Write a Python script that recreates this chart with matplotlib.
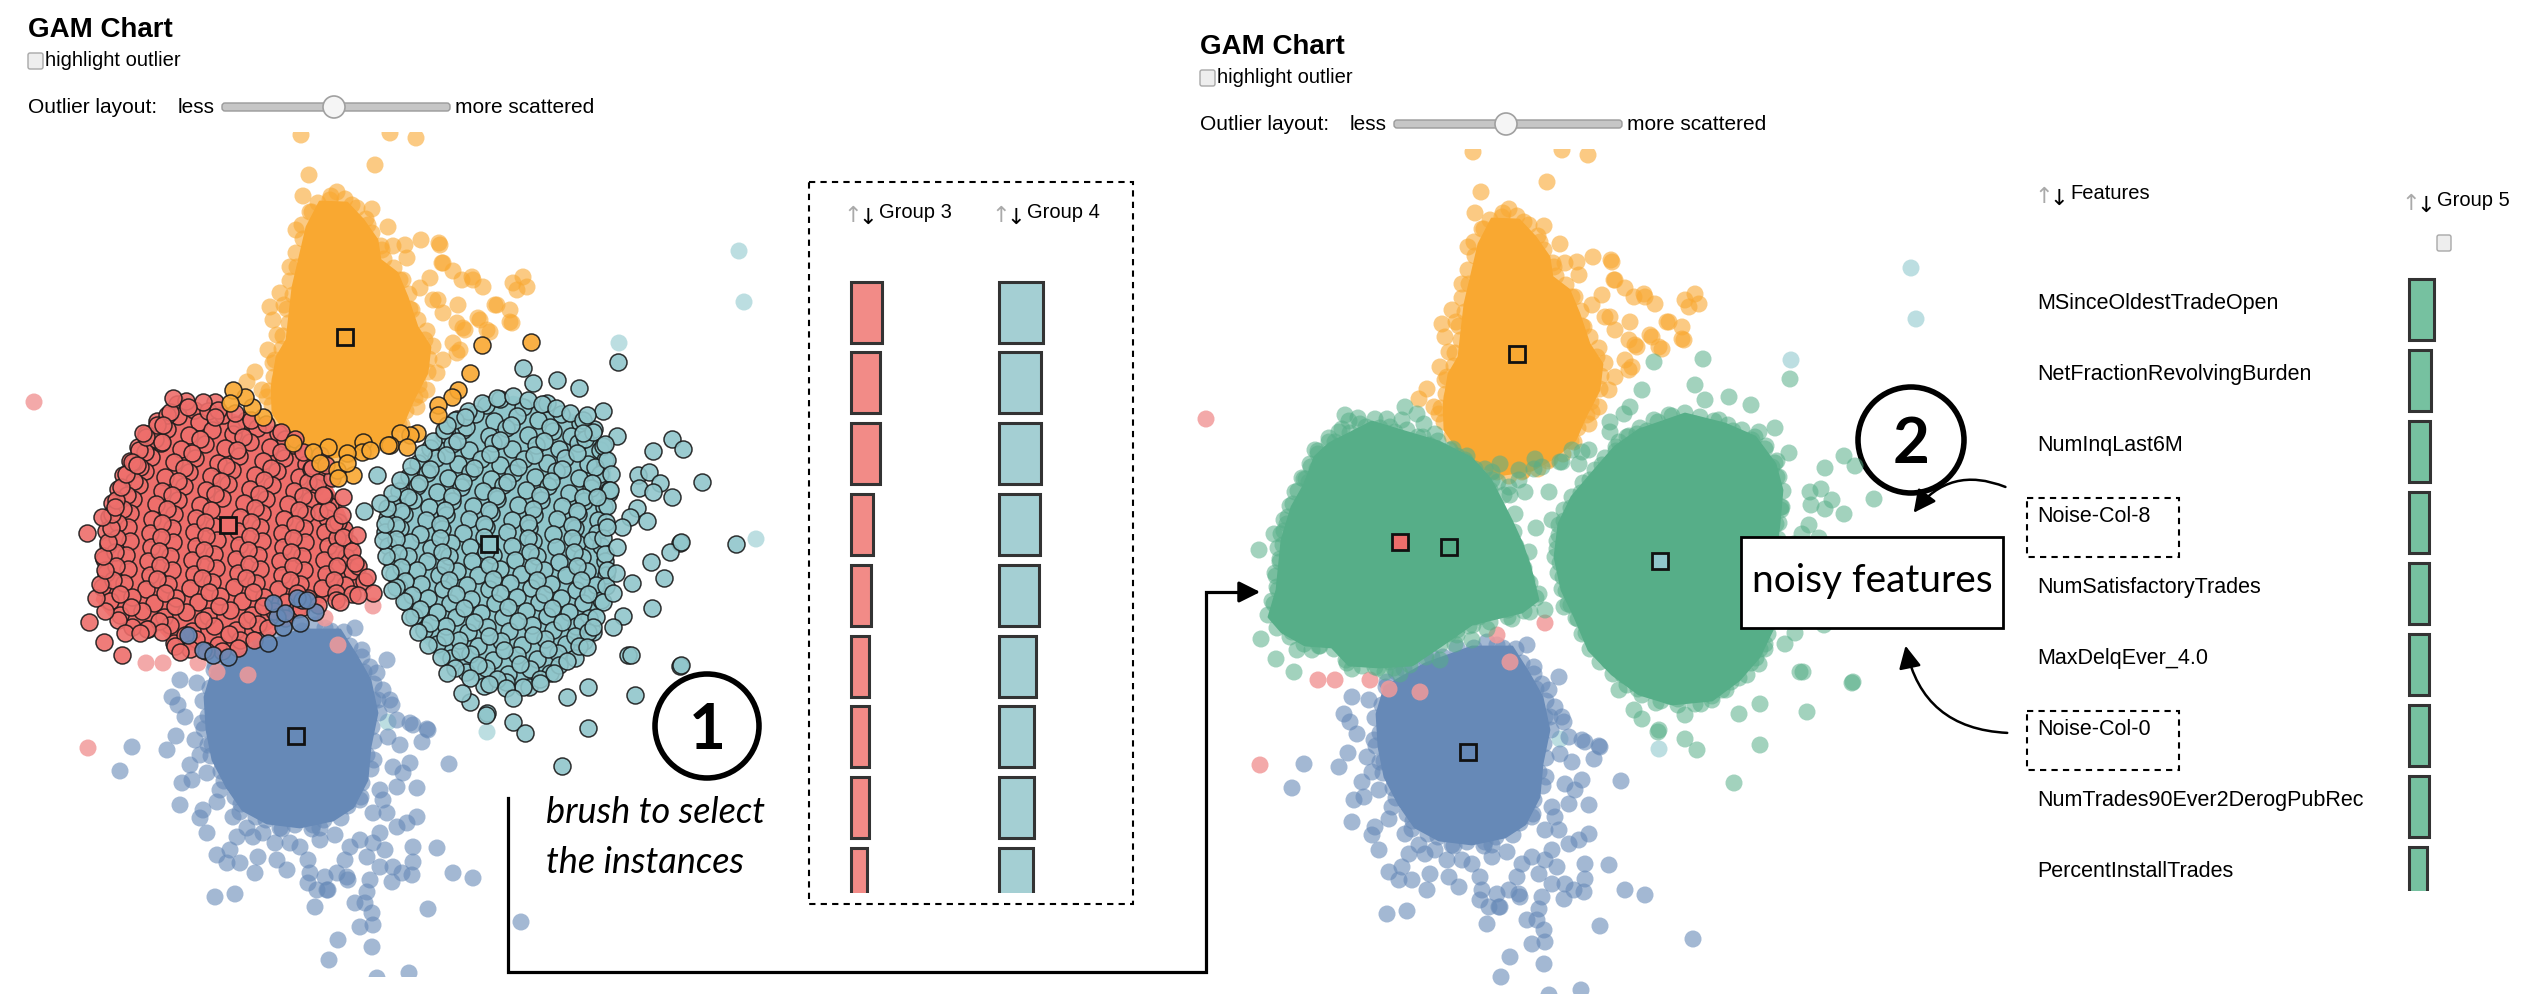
import matplotlib.pyplot as plt
from matplotlib.patches import Rectangle, Polygon, Circle, FancyBboxPatch

plt.rcParams['font.family'] = ['Liberation Sans', 'DejaVu Sans']

# ---- embedding (pixel space of the left panel) ----
orange_core = [(320, 202), (347, 203), (363, 220), (377, 240), (380, 260), (397, 273), (407, 297), (417, 327),
               (430, 347), (427, 373), (413, 400), (403, 423), (383, 440), (360, 453), (333, 457), (307, 450),
               (287, 433), (273, 413), (272, 387), (277, 357), (287, 340), (290, 313), (293, 287), (300, 257),
               (307, 227)]
orange_edge = [(318, 203), (331, 196), (345, 199), (357, 208), (366, 219), (372, 233), (381, 246), (384, 259),
               (394, 268), (403, 280), (409, 294), (410, 309), (418, 320), (427, 331), (433, 346), (429, 359),
               (428, 372), (419, 385), (415, 398), (406, 411), (399, 424), (391, 437), (376, 444), (366, 452),
               (351, 454), (337, 459), (322, 454), (309, 451), (297, 441), (285, 431), (280, 419), (272, 405),
               (269, 391), (274, 377), (273, 363), (282, 349), (283, 336), (289, 323), (287, 309), (293, 295),
               (290, 281), (297, 267), (296, 253), (303, 239), (302, 225), (312, 212)]
orange_pts = [(301, 135), (390, 133), (416, 138), (375, 165), (309, 175), (337, 192), (303, 196), (372, 209),
              (388, 227), (393, 246), (421, 240), (439, 243), (407, 258), (443, 263), (430, 278), (453, 271),
              (462, 280), (472, 277), (483, 287), (513, 283), (497, 305), (458, 305), (438, 300), (443, 313),
              (478, 318), (457, 323), (465, 330), (490, 332), (510, 322), (453, 343), (460, 350), (443, 360),
              (437, 373), (427, 390), (417, 407), (440, 245), (442, 263), (473, 280), (523, 277), (517, 290),
              (527, 287), (495, 305), (510, 310), (512, 323), (480, 320), (463, 328), (487, 330), (457, 353),
              (290, 267), (280, 293), (270, 307), (273, 320), (277, 335), (275, 360), (255, 372), (247, 382),
              (267, 397), (296, 230), (310, 212), (330, 200), (352, 205), (368, 225), (382, 250), (400, 280),
              (412, 310), (425, 340), (280, 380), (285, 410), (300, 440), (325, 455), (350, 455), (378, 442),
              (402, 425), (420, 395), (262, 390), (284, 305), (268, 350), (420, 288), (433, 300), (405, 245)]
orange_sel = [(482, 345), (531, 342), (470, 373), (458, 390), (452, 397), (438, 405), (438, 415), (417, 433),
              (410, 435), (400, 433), (390, 445), (407, 447), (363, 442), (362, 452), (347, 453), (353, 475),
              (328, 447), (313, 452), (320, 463), (337, 470), (293, 443), (263, 417), (252, 407), (245, 397),
              (233, 390), (230, 403), (338, 478), (347, 463), (370, 450), (388, 445)]

blue_core = [(213, 670), (253, 647), (300, 630), (340, 630), (357, 657), (370, 680), (377, 713), (370, 747),
             (367, 780), (353, 807), (333, 820), (300, 827), (267, 823), (243, 810), (227, 787), (213, 760),
             (207, 730), (205, 697)]
blue_edge = [(214, 670), (224, 655), (241, 651), (254, 642), (271, 640), (285, 631), (302, 631), (315, 625),
             (331, 631), (344, 632), (350, 646), (362, 657), (364, 672), (374, 684), (373, 700), (379, 713),
             (372, 727), (374, 741), (367, 755), (371, 769), (362, 783), (361, 797), (348, 806), (341, 818),
             (324, 820), (312, 829), (295, 825), (282, 829), (266, 820), (256, 817), (241, 804), (235, 797),
             (224, 781), (221, 771), (211, 756), (212, 744), (204, 729), (208, 716), (203, 701), (210, 688)]
blue_pts = [(180, 680), (172, 697), (197, 683), (178, 705), (185, 717), (202, 723), (176, 736), (132, 747),
            (167, 750), (120, 771), (200, 755), (182, 783), (192, 780), (207, 773), (180, 805), (200, 818),
            (207, 833), (203, 810), (217, 802), (233, 817), (247, 828), (237, 837), (217, 855), (230, 850),
            (227, 863), (240, 863), (255, 873), (263, 833), (277, 860), (287, 870), (300, 847), (308, 860),
            (310, 873), (308, 883), (317, 890), (328, 890), (325, 877), (337, 873), (347, 877), (350, 847),
            (360, 840), (367, 857), (373, 843), (380, 833), (373, 813), (383, 800), (380, 790), (397, 787),
            (403, 773), (410, 763), (417, 788), (417, 817), (407, 823), (397, 827), (387, 813), (393, 767),
            (388, 737), (400, 745), (413, 725), (422, 742), (428, 730), (392, 705), (397, 720), (383, 690),
            (377, 673), (387, 660), (370, 667), (355, 628), (413, 847), (413, 862), (412, 875), (402, 873),
            (392, 882), (393, 867), (380, 867), (370, 880), (367, 892), (372, 913), (373, 925), (360, 927),
            (355, 903), (365, 903), (348, 880), (315, 907), (327, 890), (338, 940), (329, 960), (372, 947),
            (428, 909), (437, 848), (453, 873), (473, 878), (449, 764), (427, 729), (410, 723), (215, 897),
            (235, 894), (409, 973), (377, 978), (313, 825), (290, 843), (258, 857), (253, 837), (521, 922),
            (215, 665), (232, 652), (260, 640), (325, 628), (362, 650), (378, 700), (374, 760), (360, 800),
            (320, 828), (280, 828), (240, 812), (220, 790), (208, 745), (320, 840), (335, 835), (275, 843),
            (345, 860), (385, 850), (390, 700), (195, 740), (190, 765)]
blue_sel = [(188, 635), (203, 650), (213, 655), (228, 657), (268, 643), (283, 627), (277, 617), (300, 623),
            (315, 612), (302, 600), (273, 603), (297, 598), (307, 600), (285, 613)]

red_core = [(157, 427), (200, 405), (233, 415), (267, 425), (300, 442), (318, 462), (330, 485), (340, 505),
            (350, 527), (358, 550), (366, 583), (350, 595), (300, 607), (267, 630), (240, 648), (207, 650),
            (177, 648), (160, 630), (133, 628), (110, 615), (97, 600), (105, 573), (110, 523), (120, 490),
            (133, 467), (143, 440)]
red_pts = [(177, 404), (194, 410), (215, 402),
           (157, 421), (178, 416), (199, 422), (223, 415), (246, 420),
           (146, 434), (167, 429), (189, 435), (212, 430), (233, 434), (257, 428), (278, 433),
           (138, 447), (161, 443), (181, 449), (205, 444), (225, 448), (250, 442), (270, 447), (293, 445),
           (130, 461), (151, 457), (174, 462), (195, 458), (218, 463), (239, 456), (263, 461), (284, 458), (306, 464),
           (123, 475), (145, 471), (165, 477), (189, 472), (211, 476), (232, 470), (255, 475), (277, 471),
           (299, 477), (318, 473),
           (118, 489), (139, 485), (162, 491), (184, 486), (206, 490), (228, 484), (250, 489), (272, 485),
           (294, 491), (315, 487),
           (112, 503), (133, 499), (156, 504), (178, 500), (200, 505), (222, 498), (244, 503), (266, 499),
           (288, 504), (310, 500), (330, 506),
           (109, 517), (130, 513), (152, 519), (174, 514), (196, 518), (240, 517), (262, 513), (284, 519),
           (306, 514), (327, 518),
           (106, 531), (128, 527), (150, 533), (172, 528), (194, 532), (214, 526), (238, 531), (260, 527),
           (282, 533), (304, 528), (325, 532), (344, 529),
           (108, 545), (130, 541), (151, 547), (173, 542), (196, 546), (217, 540), (239, 545), (262, 541),
           (283, 547), (305, 542), (328, 546), (349, 543),
           (104, 559), (126, 555), (148, 561), (170, 556), (192, 560), (214, 554), (236, 559), (258, 555),
           (280, 561), (302, 556), (324, 560), (346, 557),
           (106, 573), (128, 569), (150, 575), (172, 570), (194, 574), (216, 568), (238, 573), (260, 569),
           (282, 575), (304, 570), (326, 574), (352, 571),
           (102, 587), (124, 583), (146, 589), (168, 584), (190, 588), (212, 582), (234, 587), (256, 583),
           (278, 589), (300, 584), (322, 588), (345, 585),
           (110, 601), (132, 597), (154, 603), (176, 598), (198, 602), (220, 596), (242, 601), (264, 597),
           (286, 602), (308, 598),
           (120, 615), (142, 611), (164, 617), (186, 612), (208, 616), (230, 610), (252, 615), (274, 611),
           (148, 629), (170, 625), (192, 631), (214, 626), (236, 630), (258, 624),
           (174, 643), (196, 639), (218, 645), (240, 640),
           (167, 415), (208, 411), (236, 425), (155, 439), (200, 439), (243, 437), (285, 439), (145, 452),
           (192, 453), (237, 450), (281, 452), (140, 467), (184, 468), (226, 466), (271, 468), (311, 469),
           (134, 481), (178, 481), (221, 481), (264, 480), (308, 482), (127, 495), (172, 495), (215, 494),
           (259, 494), (303, 496), (123, 509), (167, 509), (211, 510), (255, 508), (299, 510), (319, 512),
           (118, 523), (162, 523), (205, 522), (251, 522), (295, 524), (338, 522), (117, 538), (161, 537),
           (206, 536), (250, 536), (293, 538), (337, 538), (115, 552), (159, 551), (204, 550), (248, 550),
           (291, 552), (336, 551), (116, 566), (160, 565), (205, 564), (249, 564), (293, 566), (337, 566),
           (113, 580), (157, 579), (202, 578), (246, 578), (290, 580), (334, 580), (120, 594), (165, 593),
           (209, 592), (253, 592), (297, 593), (336, 593), (131, 607), (175, 606), (219, 606), (263, 606),
           (297, 609), (159, 621), (203, 620), (247, 620), (185, 635), (229, 634),
           (157, 425), (170, 412), (186, 401), (203, 402), (218, 410), (235, 413), (251, 420), (266, 424),
           (281, 432), (295, 439), (303, 452), (312, 468), (318, 482), (324, 496), (328, 510), (334, 524),
           (343, 537), (352, 551), (358, 566), (364, 581), (352, 594), (336, 600), (318, 605), (301, 608),
           (285, 618), (268, 628), (254, 640), (238, 648), (222, 651), (206, 651), (190, 649), (175, 646),
           (162, 632), (147, 629), (132, 627), (118, 620), (105, 611), (96, 598), (100, 584), (105, 570),
           (103, 556), (108, 542), (111, 528), (112, 514), (116, 500), (121, 487), (126, 474), (134, 462),
           (139, 450), (146, 437), (320, 455), (332, 478), (343, 497), (326, 465),
           (87, 533), (102, 517), (115, 507), (132, 462), (137, 465), (143, 433), (162, 442), (163, 425),
           (173, 398), (188, 407), (215, 417), (323, 495), (342, 515), (357, 535), (355, 563), (367, 577),
           (373, 593), (340, 602), (358, 595), (89, 622), (104, 642), (122, 655), (125, 633), (140, 633),
           (180, 652)]

teal_core = [(467, 413), (513, 397), (553, 407), (583, 420), (603, 447), (610, 473), (607, 507), (603, 540),
             (607, 573), (603, 607), (587, 640), (567, 663), (540, 683), (500, 687), (467, 677), (440, 657),
             (417, 633), (403, 600), (390, 573), (383, 540), (387, 507), (400, 480), (423, 453), (443, 430)]
teal_pts = [(486, 405), (500, 399), (523, 407), (547, 403),
            (457, 419), (475, 414), (494, 421), (517, 416), (538, 420), (561, 414), (580, 423),
            (444, 434), (463, 430), (489, 436), (506, 428), (528, 435), (553, 431), (571, 436), (594, 429),
            (430, 448), (452, 444), (469, 450), (493, 443), (512, 449), (536, 445), (559, 449), (578, 443),
            (600, 450),
            (418, 463), (436, 458), (458, 464), (481, 459), (500, 465), (524, 459), (547, 463), (565, 458),
            (588, 464), (605, 460),
            (409, 476), (427, 473), (448, 478), (470, 472), (491, 479), (513, 473), (535, 477), (556, 471),
            (579, 478), (600, 474),
            (399, 491), (417, 486), (437, 492), (461, 487), (483, 491), (503, 485), (526, 490), (548, 486),
            (569, 493), (591, 488), (609, 493),
            (392, 504), (413, 500), (429, 507), (452, 501), (473, 506), (497, 499), (518, 505), (541, 500),
            (562, 506), (584, 501), (604, 507),
            (387, 518), (404, 514), (426, 520), (446, 515), (469, 519), (491, 513), (512, 520), (534, 515),
            (557, 519), (578, 514), (598, 520),
            (385, 532), (400, 528), (420, 534), (442, 529), (463, 533), (486, 527), (507, 532), (529, 528),
            (553, 534), (575, 528), (597, 533),
            (388, 546), (410, 542), (431, 548), (451, 543), (470, 547), (512, 546), (533, 541), (556, 547),
            (577, 543), (601, 546),
            (391, 560), (408, 556), (427, 561), (449, 556), (472, 561), (493, 555), (515, 560), (537, 556),
            (559, 562), (582, 557), (605, 561),
            (394, 574), (417, 570), (439, 575), (457, 571), (478, 575), (500, 569), (521, 574), (544, 570),
            (566, 575), (587, 571), (606, 575),
            (399, 588), (421, 584), (443, 589), (467, 585), (489, 589), (510, 583), (531, 588), (551, 584),
            (576, 590), (596, 585),
            (406, 602), (428, 598), (450, 603), (471, 599), (495, 603), (517, 597), (539, 602), (561, 598),
            (583, 603), (601, 600),
            (414, 616), (437, 612), (456, 617), (481, 613), (503, 617), (526, 611), (547, 616), (569, 612),
            (589, 618),
            (424, 630), (446, 626), (468, 632), (487, 627), (509, 631), (532, 625), (553, 630), (576, 626),
            (593, 632),
            (437, 644), (459, 640), (478, 646), (501, 641), (522, 645), (545, 639), (566, 644), (584, 641),
            (451, 658), (470, 654), (493, 660), (517, 655), (537, 659), (558, 653), (575, 658),
            (466, 672), (486, 668), (508, 674), (530, 669), (550, 673),
            (484, 686), (506, 682), (529, 687),
            (466, 427), (511, 425), (550, 427), (457, 441), (500, 440), (544, 441), (585, 439), (446, 455),
            (490, 454), (534, 455), (577, 453), (430, 469), (474, 468), (518, 467), (562, 469), (595, 467),
            (419, 483), (463, 482), (507, 482), (551, 481), (592, 483), (408, 497), (452, 496), (496, 496),
            (540, 495), (583, 497), (401, 511), (445, 510), (489, 510), (533, 509), (577, 511), (396, 525),
            (440, 524), (484, 524), (528, 523), (572, 525), (396, 539), (440, 538), (484, 537), (528, 538),
            (572, 538), (592, 540), (398, 553), (442, 552), (486, 551), (530, 552), (574, 552), (401, 567),
            (445, 566), (489, 565), (533, 566), (577, 566), (405, 581), (449, 580), (493, 579), (537, 580),
            (581, 580), (412, 595), (456, 594), (500, 593), (544, 594), (588, 594), (420, 609), (464, 608),
            (508, 607), (552, 608), (430, 623), (474, 622), (518, 621), (562, 622), (582, 622), (445, 637),
            (489, 636), (533, 635), (575, 636), (460, 651), (504, 650), (548, 649), (478, 665), (520, 664),
            (559, 665), (497, 679), (540, 679),
            (468, 411), (482, 403), (497, 398), (513, 396), (528, 400), (542, 404), (556, 408), (570, 413),
            (583, 420), (593, 432), (603, 446), (607, 460), (611, 474), (609, 490), (607, 506), (606, 522),
            (603, 538), (605, 554), (607, 570), (606, 586), (603, 602), (596, 617), (588, 632), (579, 646),
            (567, 661), (554, 673), (540, 683), (523, 687), (506, 688), (489, 684), (470, 678), (455, 668),
            (441, 657), (428, 645), (418, 632), (410, 617), (404, 601), (396, 587), (390, 572), (386, 556),
            (383, 540), (385, 524), (387, 508), (392, 493), (400, 480), (411, 466), (423, 453), (433, 441),
            (444, 430), (455, 420),
            (523, 368), (533, 383), (557, 380), (579, 388), (618, 362), (603, 411), (587, 415), (583, 433),
            (617, 436), (605, 444), (653, 451), (672, 439), (683, 449), (638, 475), (649, 472), (660, 483),
            (639, 488), (653, 492), (672, 497), (702, 482), (610, 490), (597, 497), (637, 508), (647, 521),
            (630, 517), (622, 527), (607, 527), (617, 547), (680, 543), (670, 552), (736, 544), (651, 562),
            (616, 573), (632, 583), (664, 578), (613, 593), (652, 608), (623, 616), (613, 627), (593, 627),
            (587, 647), (628, 655), (680, 666), (588, 687), (635, 695), (567, 697), (513, 698), (487, 713),
            (513, 722), (525, 733), (588, 728), (470, 702), (462, 693), (447, 673), (377, 475), (364, 511),
            (380, 503), (392, 590), (447, 425), (465, 417), (486, 715), (562, 766), (631, 655), (681, 665),
            (681, 542)]

pink_pts = [(34, 402), (88, 748), (146, 663), (163, 663), (198, 663), (217, 672), (248, 675), (338, 645),
            (373, 606), (325, 618)]
pale_teal_pts = [(739, 251), (744, 302), (619, 343), (756, 539), (487, 732), (388, 722)]

# cluster centre markers: (x, y, colour, filled)
left_marks = [(345, 337, '#F9A831', False), (228, 525, '#EE6E6B', True),
              (489, 544, '#90C6CB', True), (296, 736, '#6689B7', False)]
right_marks = [(345, 337, '#F9A831', False), (228, 525, '#EE6E6B', True), (277, 530, '#56AE88', False),
               (488, 544, '#90C6CB', True), (296, 735, '#6689B7', False)]

# ---- bar lists ----
group3_w = [31, 29, 29, 22, 20, 18, 18, 18, 16]
group4_w = [44, 42, 42, 41, 40, 37, 35, 35, 34]
group5_w = [25, 22, 21, 20, 20, 20, 20, 20, 18]
features = ['MSinceOldestTradeOpen', 'NetFractionRevolvingBurden', 'NumInqLast6M', 'Noise-Col-8',
            'NumSatisfactoryTrades', 'MaxDelqEver_4.0', 'Noise-Col-0', 'NumTrades90Ever2DerogPubRec',
            'PercentInstallTrades']
noisy = ['Noise-Col-8', 'Noise-Col-0']

ORANGE, BLUE, RED, TEAL, GREEN = '#F9A831', '#6689B7', '#EE6E6B', '#90C6CB', '#56AE88'
S = 150

fig = plt.figure(figsize=(25.31, 9.97), dpi=100)
ax = fig.add_axes([0, 0, 1, 1])
ax.set_xlim(0, 2531)
ax.set_ylim(997, 0)
ax.axis('off')


def draw_panel(ox, oy, merged):
    clip = Rectangle((ox - 10, 132 + oy), 840, 845, transform=ax.transData)

    def sc(pts, color, alpha=0.6, edge=False, z=2):
        c = ax.scatter([p[0] + ox for p in pts], [p[1] + oy for p in pts], s=S, c=color, alpha=alpha,
                       edgecolors='#1a1a1a' if edge else 'none', linewidths=1.1 if edge else 0, zorder=z)
        c.set_clip_path(clip)

    def core(poly, color, z=2):
        p = Polygon([(x + ox, y + oy) for x, y in poly], closed=True, fc=color, ec=color, lw=2, zorder=z,
                    joinstyle='round')
        ax.add_patch(p)
        p.set_clip_path(clip)

    sc(pale_teal_pts, '#B5DBDE', alpha=0.9)
    core(orange_core, ORANGE)
    sc(orange_edge + orange_pts, ORANGE)
    core(blue_core, BLUE)
    sc(blue_edge + blue_pts, BLUE)
    sc(pink_pts, '#F29A9A', alpha=0.85)
    if merged:
        core(red_core, GREEN, z=3)
        core(teal_core, GREEN, z=3)
        sc(red_pts + teal_pts + orange_sel + blue_sel, GREEN, alpha=0.55, z=3)
        marks = right_marks
    else:
        core(red_core, RED, z=3)
        sc(red_pts, RED, alpha=0.9, edge=True, z=3)
        core(teal_core, TEAL, z=3)
        sc(teal_pts, TEAL, alpha=0.9, edge=True, z=3)
        sc(orange_sel, ORANGE, alpha=0.9, edge=True, z=3)
        sc(blue_sel, BLUE, alpha=0.9, edge=True, z=3)
        marks = left_marks
    for x, y, col, filled in marks:
        ax.plot(x + ox, y + oy, 's', ms=12, mfc=col if filled else 'none', mec='#111111', mew=2, zorder=6)

    # header controls
    ax.text(28 + ox, 37 + oy, 'GAM Chart', fontsize=20, fontweight='bold', va='baseline')
    ax.add_patch(FancyBboxPatch((29 + ox, 54 + oy), 13, 14, boxstyle='round,pad=1,rounding_size=2',
                                fc='#EEEEEE', ec='#A8A8A8', lw=1))
    ax.text(45 + ox, 66 + oy, 'highlight outlier', fontsize=14.5, va='baseline')
    ax.text(28 + ox, 113 + oy, 'Outlier layout:', fontsize=15, va='baseline')
    ax.text(178 + ox, 113 + oy, 'less', fontsize=15, va='baseline')
    ax.add_patch(FancyBboxPatch((222 + ox, 103 + oy), 228, 8, boxstyle='round,pad=0,rounding_size=3',
                                fc='#C6C6C6', ec='#9A9A9A', lw=1))
    ax.add_patch(Circle((334 + ox, 107 + oy), 11, fc='#F5F5F5', ec='#A0A0A0', lw=1.2, zorder=4))
    ax.text(455 + ox, 113 + oy, 'more scattered', fontsize=15, va='baseline')


def sort_header(x, y, label):
    ax.text(x, y + 2, '↑', fontsize=16, color='#AAAAAA', family='DejaVu Sans', va='center', ha='center')
    ax.text(x + 15, y + 4, '↓', fontsize=16, color='black', family='DejaVu Sans', va='center', ha='center')
    ax.text(x + 26, y - 2, label, fontsize=14.5, va='center')


draw_panel(0, 0, merged=False)
draw_panel(1172, 17, merged=True)

# ---- left list (group 3 / group 4) ----
ax.add_patch(Rectangle((809, 182), 324, 722, fill=False, ec='black', lw=1.5, ls=(0, (3, 2.5))))
sort_header(853, 214, 'Group 3')
sort_header(1001, 214, 'Group 4')
list_clip = Rectangle((800, 270), 400, 623, transform=ax.transData)
yc_left = [312 + 70.8 * i for i in range(len(group3_w))]
for widths, x0, col in [(group3_w, 851, '#F28B87'), (group4_w, 999, '#A4CFD3')]:
    bars = ax.barh(yc_left, widths, left=x0, height=61, color=col, edgecolor='#333333', linewidth=2.2)
    for b in bars:
        b.set_clip_path(list_clip)

# ---- right list (features / group 5) ----
sort_header(2044, 195, 'Features')
sort_header(2411, 202, 'Group 5')
ax.add_patch(FancyBboxPatch((2438, 236), 12, 14, boxstyle='round,pad=1,rounding_size=2',
                            fc='#EEEEEE', ec='#A8A8A8', lw=1))
yc_right = [309 + 71 * i for i in range(len(group5_w))]
right_clip = Rectangle((2300, 260), 231, 631, transform=ax.transData)
bars = ax.barh(yc_right, group5_w, left=2409, height=61, color='#76C1A0', edgecolor='#333333', linewidth=2.2)
for b in bars:
    b.set_clip_path(right_clip)
for name, yc in zip(features, yc_right):
    ax.text(2037, yc, name, fontsize=15.5, va='baseline')
    if name in noisy:
        ax.add_patch(Rectangle((2027, yc - 24), 152, 59, fill=False, ec='black', lw=1.5, ls=(0, (3, 2.5))))

# ---- annotations ----
ax.add_patch(Circle((707, 726), 52, fill=False, ec='black', lw=4))
ax.text(707, 749, '1', fontsize=46, fontweight='bold', family='Lato', ha='center', va='baseline')
ax.text(546, 823, 'brush to select', fontsize=26, style='italic', family='Lato', va='baseline')
ax.text(546, 873, 'the instances', fontsize=26, style='italic', family='Lato', va='baseline')
ax.plot([508, 508, 1206, 1206, 1248], [798, 972, 972, 592, 592], color='black', lw=2.3, solid_joinstyle='miter')
ax.annotate('', xy=(1263, 592), xytext=(1240, 592),
            arrowprops=dict(arrowstyle='-|>', color='black', lw=2.3, mutation_scale=32))

ax.add_patch(Circle((1911, 440), 53, fill=False, ec='black', lw=4))
ax.text(1911, 463, '2', fontsize=46, fontweight='bold', family='Lato', ha='center', va='baseline')
ax.add_patch(Rectangle((1741, 537), 262, 91, fc='white', ec='black', lw=2, zorder=7))
ax.text(1872, 592, 'noisy features', fontsize=28, family='Lato', ha='center', va='baseline', zorder=8)
ax.annotate('', xy=(1912, 515), xytext=(2008, 488),
            arrowprops=dict(arrowstyle='-|>', color='black', lw=1.8, mutation_scale=34,
                            connectionstyle='arc3,rad=0.4'))
ax.annotate('', xy=(1905, 643), xytext=(2010, 733),
            arrowprops=dict(arrowstyle='-|>', color='black', lw=1.8, mutation_scale=34,
                            connectionstyle='arc3,rad=-0.4'))

fig.savefig('out.png', dpi=100)
